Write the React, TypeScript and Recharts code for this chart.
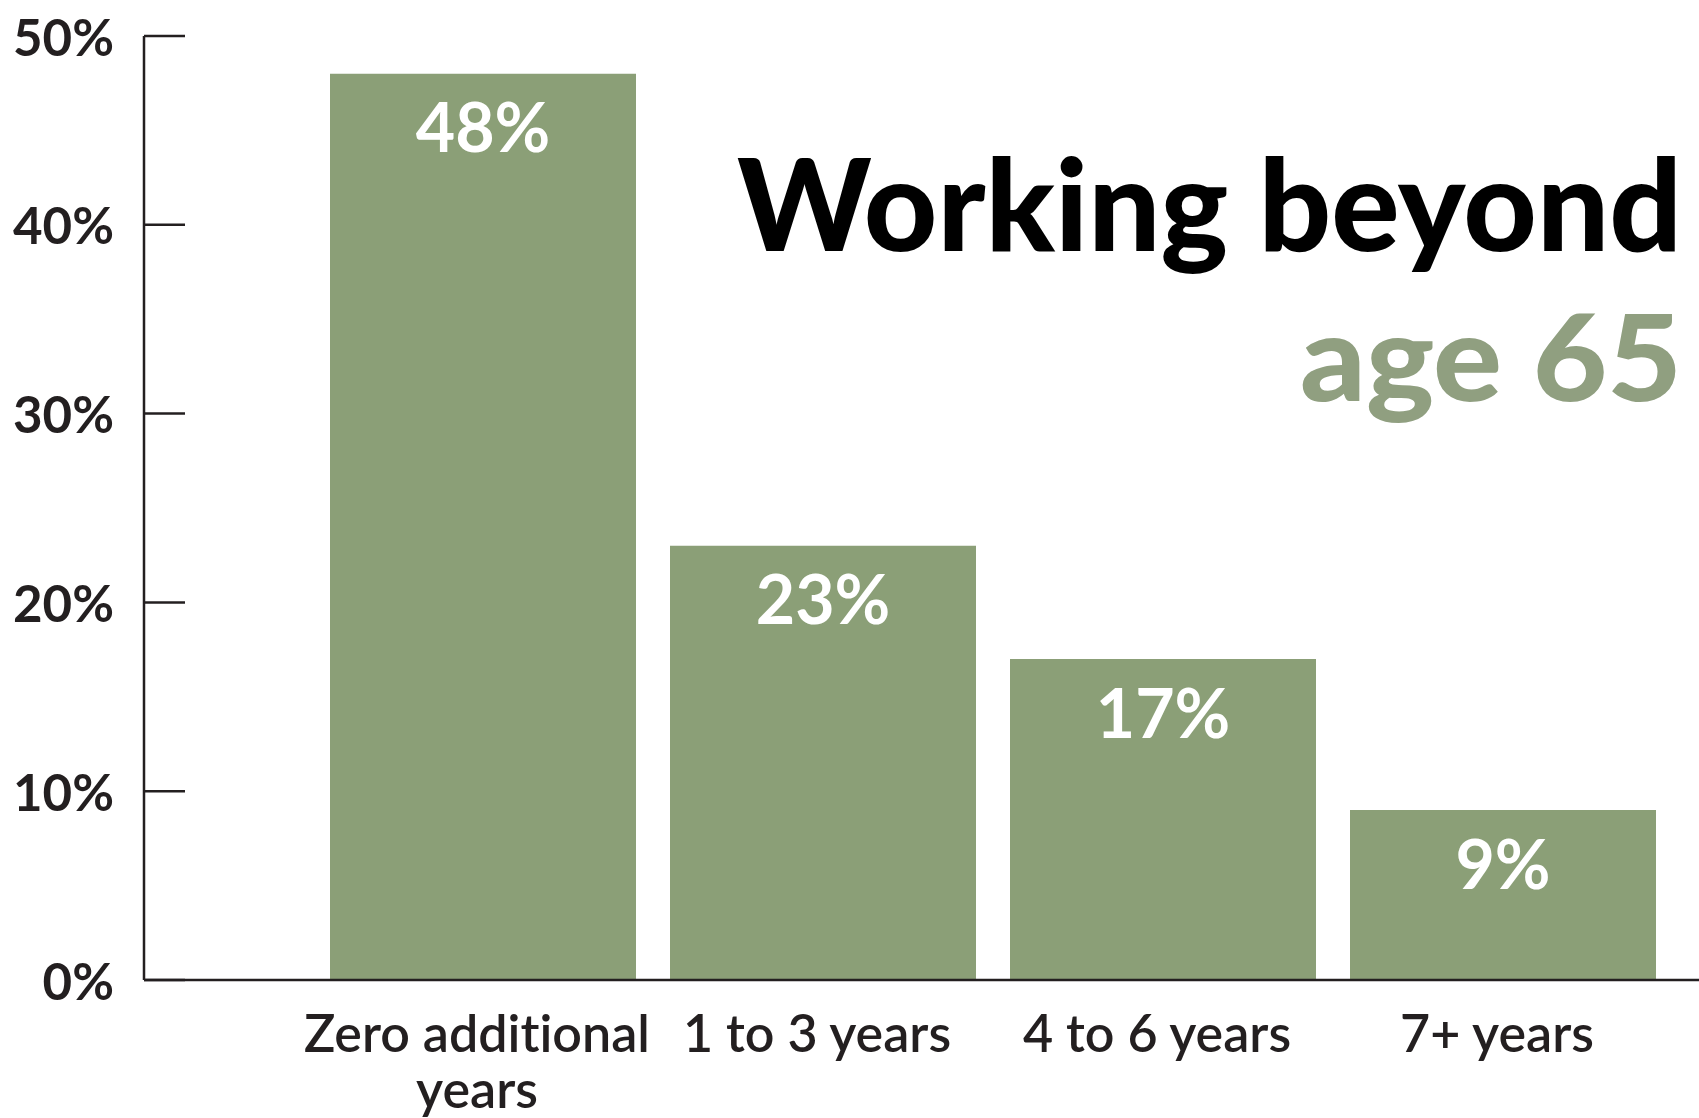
import React from "react";
import { BarChart, Bar, XAxis, YAxis, LabelList } from "recharts";

const categories = ["Zero additional years", "1 to 3 years", "4 to 6 years", "7+ years"];
const shares = [48, 23, 17, 9];
const yTicks = [0, 10, 20, 30, 40, 50];
const titleLine1 = "Working beyond";
const titleLine2 = "age 65";

const tickLines: Record<string, string[]> = {
  "Zero additional years": ["Zero additional", "years"],
};

const data = categories.map((c, i) => ({ category: c, share: shares[i] }));

const TEXT = "#231f20";
const BAR = "#8b9f77";
const SAGE = "#909f80";
const FONT = "Lato, 'Noto Sans', sans-serif";
const noLig = { fontVariantLigatures: "none" as const, fontFeatureSettings: '"liga" 0' };

const YTick = (props: any) => {
  const { x, y, payload } = props;
  return (
    <g>
      <line x1={x} x2={x + 41} y1={y} y2={y} stroke={TEXT} strokeWidth={2.5} />
      <text x={x - 30} y={y} textAnchor="end" dominantBaseline="central" fill={TEXT} fontSize={51} fontFamily={FONT} fontWeight={700}>
        {payload.value}%
      </text>
    </g>
  );
};

const XTick = (props: any) => {
  const { x, payload } = props;
  const lines = tickLines[payload.value] || [payload.value];
  return (
    <g>
      {lines.map((l, i) => (
        <text key={i} x={x - 6} y={1052 + i * 56} textAnchor="middle" fill={TEXT} fontSize={52} fontFamily={FONT} fontWeight={600} style={noLig}>
          {l}
        </text>
      ))}
    </g>
  );
};

const BarLabel = (props: any) => {
  const { x, y, width, value } = props;
  return (
    <text x={x + width / 2} y={y + 52} textAnchor="middle" dominantBaseline="central" fill="#ffffff" fontSize={68} fontFamily={FONT} fontWeight={700}>
      {value}%
    </text>
  );
};

export default function App() {
  return (
    <div style={{ position: "absolute", left: 0, top: 0, width: 1699, height: 1118, background: "#fff" }}>
      <BarChart
        width={1699}
        height={1118}
        data={data}
        margin={{ top: 36, right: 0, bottom: 0, left: 0 }}
        barCategoryGap="5%"
      >
        <XAxis
          dataKey="category"
          axisLine={{ stroke: TEXT, strokeWidth: 2.5 }}
          tickLine={false}
          tick={<XTick />}
          padding={{ left: 169, right: 26 }}
          interval={0}
          height={138}
        />
        <YAxis
          domain={[0, 50]}
          ticks={yTicks}
          width={144}
          axisLine={{ stroke: TEXT, strokeWidth: 2.5 }}
          tickLine={false}
          tickSize={0}
          tickMargin={0}
          tick={<YTick />}
          interval={0}
        />
        <Bar dataKey="share" fill={BAR} isAnimationActive={false}>
          <LabelList dataKey="share" content={<BarLabel />} />
        </Bar>
      </BarChart>
      <svg width={1699} height={1118} style={{ position: "absolute", left: 0, top: 0, pointerEvents: "none" }}>
        <text x={737} y={251} fill="#000" fontSize={128} fontFamily={FONT} fontWeight={900} textLength={945} lengthAdjust="spacingAndGlyphs">
          {titleLine1}
        </text>
        <text x={1300} y={401} fill={SAGE} fontSize={120} fontFamily={FONT} fontWeight={900} textLength={382} lengthAdjust="spacingAndGlyphs">
          {titleLine2}
        </text>
      </svg>
    </div>
  );
}
